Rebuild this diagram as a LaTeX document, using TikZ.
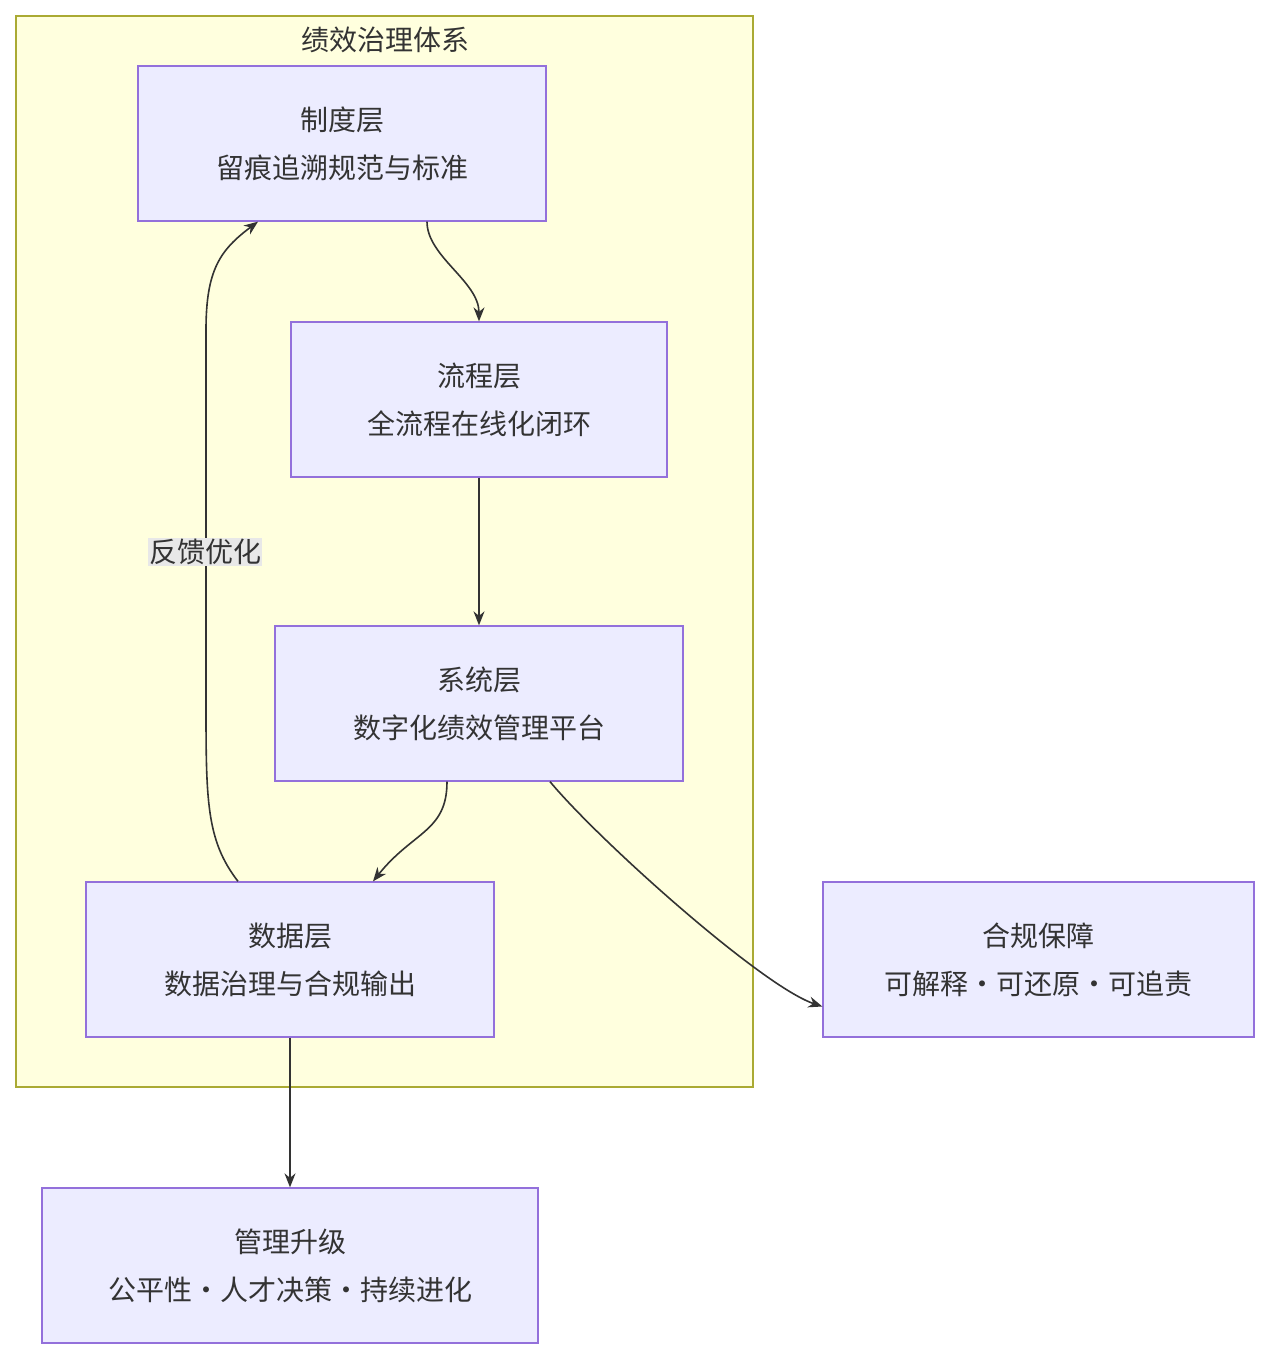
\documentclass[tikz,border=0pt]{standalone}
\usepackage{fontspec}
\setmainfont{Noto Sans CJK SC}
\usetikzlibrary{arrows.meta}
\definecolor{boxfill}{HTML}{ECECFF}
\definecolor{boxline}{HTML}{9370DB}
\definecolor{clfill}{HTML}{FFFFDE}
\definecolor{clline}{HTML}{AAAA33}
\definecolor{ink}{HTML}{333333}
\definecolor{lblbg}{HTML}{E8E8E8}
\begin{document}
\begin{tikzpicture}[x=1pt,y=-1pt,
  box/.style={draw=boxline,fill=boxfill,line width=1.3pt,inner sep=0pt,align=center,text=ink,font=\fontsize{28}{48}\selectfont},
  conn/.style={draw=ink,line width=1.6pt,-{Stealth[length=14pt,width=11pt]}}]
\useasboundingbox (0,0) rectangle (1270,1360);
\draw[draw=clline,fill=clfill,line width=1.3pt] (16,16) rectangle (753,1087);
\node[text=ink,font=\fontsize{28}{34}\selectfont] (title) at (385,40) {绩效治理体系};
\node[box,minimum width=408pt,minimum height=155pt] (zd) at (342,143.5) {制度层\\留痕追溯规范与标准};
\node[box,minimum width=376pt,minimum height=155pt] (lc) at (479,399.5) {流程层\\全流程在线化闭环};
\node[box,minimum width=408pt,minimum height=155pt] (xt) at (479,703.5) {系统层\\数字化绩效管理平台};
\node[box,minimum width=408pt,minimum height=155pt] (sj) at (290,959.5) {数据层\\数据治理与合规输出};
\node[box,minimum width=431pt,minimum height=155pt] (hg) at (1038.5,959.5) {合规保障\\可解释·可还原·可追责};
\node[box,minimum width=496pt,minimum height=155pt] (gl) at (290,1265.5) {管理升级\\公平性·人才决策·持续进化};
\draw[conn] ([xshift=85pt]zd.south) .. controls +(0,35) and +(0,-40) .. (lc.north);
\draw[conn] (lc.south) -- (xt.north);
\draw[conn] ([xshift=-32pt]xt.south) .. controls +(0,50) and +(40,-50) .. ([xshift=83pt]sj.north);
\draw[conn] ([xshift=71pt]xt.south) .. controls +(50,60) and +(-60,-20) .. ([yshift=-47pt]hg.west);
\draw[conn] (sj.south) -- (gl.north);
\draw[conn] ([xshift=-52pt]sj.north) .. controls (206,840) and (206,800) .. (206,700) -- (206,330) .. controls (206,270) and (220,250) .. ([xshift=-84pt]zd.south);
\node[fill=lblbg,text=ink,inner sep=1pt,font=\fontsize{28}{34}\selectfont] (lbl) at (205,552) {反馈优化};
\end{tikzpicture}
\end{document}
